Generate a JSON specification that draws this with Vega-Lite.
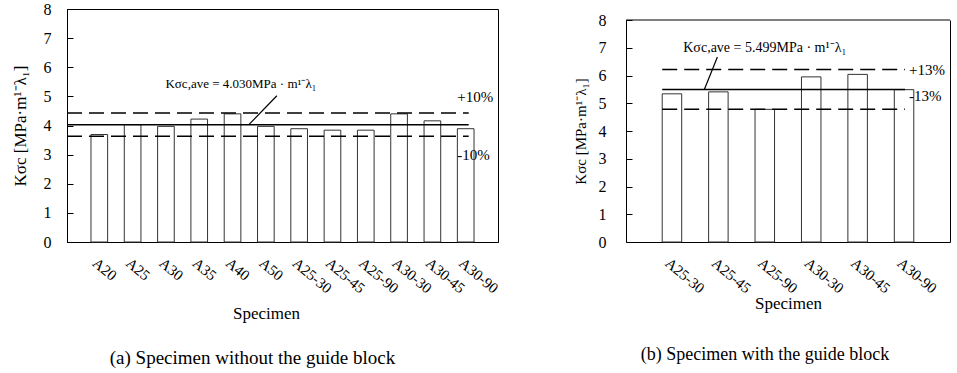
{
  "$schema": "https://vega.github.io/schema/vega-lite/v6.json",
  "padding": {"left": 10, "top": 0, "right": 2, "bottom": 0},
  "background": "white",
  "spacing": 72,
  "config": {
    "font": "Liberation Serif",
    "view": {"stroke": "black", "strokeWidth": 1},
    "axis": {
      "grid": false,
      "domainColor": "black",
      "tickColor": "black",
      "labelColor": "black",
      "titleColor": "black",
      "labelFont": "Liberation Serif",
      "titleFont": "Liberation Serif",
      "titleFontWeight": "normal",
      "labelOverlap": false
    },
    "text": {"font": "Liberation Serif"},
    "title": {"font": "Liberation Serif", "fontWeight": "normal", "color": "black"}
  },
  "datasets": {
    "a": [
      {"specimen": "A20", "K": 3.69},
      {"specimen": "A25", "K": 4.03},
      {"specimen": "A30", "K": 3.97},
      {"specimen": "A35", "K": 4.22},
      {"specimen": "A40", "K": 4.40},
      {"specimen": "A50", "K": 3.97},
      {"specimen": "A25-30", "K": 3.89},
      {"specimen": "A25-45", "K": 3.84},
      {"specimen": "A25-90", "K": 3.84},
      {"specimen": "A30-30", "K": 4.40},
      {"specimen": "A30-45", "K": 4.16},
      {"specimen": "A30-90", "K": 3.89}
    ],
    "b": [
      {"specimen": "A25-30", "K": 5.34},
      {"specimen": "A25-45", "K": 5.41},
      {"specimen": "A25-90", "K": 4.78},
      {"specimen": "A30-30", "K": 5.95},
      {"specimen": "A30-45", "K": 6.04},
      {"specimen": "A30-90", "K": 5.49}
    ],
    "linesA": [
      {"kind": "mean", "value": 4.03, "from": "A20", "to": "A30-90"},
      {"kind": "bound", "value": 4.433, "from": "A20", "to": "A30-90"},
      {"kind": "bound", "value": 3.627, "from": "A20", "to": "A30-90"}
    ],
    "linesB": [
      {"kind": "mean", "value": 5.499, "from": "A25-30", "to": "A30-90"},
      {"kind": "bound", "value": 6.214, "from": "A25-30", "to": "A30-90"},
      {"kind": "bound", "value": 4.784, "from": "A25-30", "to": "A30-90"}
    ],
    "leaderA": [{"x1": "A25-30", "x2": "A50", "y1": 5.02, "y2": 4.03}],
    "leaderB": [{"x1": "A25-45", "x2": "A25-45", "y1": 6.67, "y2": 5.499}],
    "noteA": [{"text": "Kσc,ave = 4.030MPa · m¹⁻λ₁", "at": "A40", "y": 5.43}],
    "noteB": [{"text": "Kσc,ave = 5.499MPa · m¹⁻λ₁", "at": "A25-90", "y": 7.0}],
    "pctA": [
      {"text": "+10%", "at": "A30-90", "y": 4.98},
      {"text": "-10%", "at": "A30-90", "y": 3.0}
    ],
    "pctB": [
      {"text": "+13%", "at": "A30-90", "y": 6.2},
      {"text": "-13%", "at": "A30-90", "y": 5.26}
    ],
    "frameB": [{"top": 8}]
  },
  "hconcat": [
    {
      "width": 431,
      "height": 233,
      "title": {"text": "(a) Specimen without the guide block", "orient": "bottom", "fontSize": 19, "offset": 27, "dx": -30, "anchor": "middle"},
      "resolve": {"axis": {"y": "independent"}},
      "layer": [
        {
          "data": {"name": "a"},
          "mark": {"type": "bar", "fill": "white", "stroke": "#333", "strokeWidth": 1},
          "encoding": {
            "x": {
              "field": "specimen", "type": "nominal", "sort": null,
              "scale": {"domain": ["A20", "A25", "A30", "A35", "A40", "A50", "A25-30", "A25-45", "A25-90", "A30-30", "A30-45", "A30-90"], "paddingInner": 0.5, "paddingOuter": 0.72},
              "axis": {"title": "Specimen", "labelAngle": 40, "labelAlign": "left", "labelBaseline": "top", "labelFontSize": 15, "tickSize": -4, "labelPadding": 17, "titleFontSize": 17, "titlePadding": 10, "titleX": 199}
            },
            "y": {
              "field": "K", "type": "quantitative",
              "scale": {"domain": [0, 8], "nice": false},
              "axis": {"orient": "left", "title": "Kσc  [MPa·m¹⁻λ₁]", "values": [0, 1, 2, 3, 4, 5, 6, 7, 8], "tickSize": -6, "labelPadding": 22, "labelFontSize": 16, "titleFontSize": 17, "titlePadding": 14}
            }
          }
        },
        {
          "data": {"name": "linesA"},
          "mark": {"type": "rule", "color": "black", "strokeWidth": 1.5},
          "encoding": {
            "x": {"field": "from", "type": "nominal", "bandPosition": -1.44},
            "x2": {"field": "to", "bandPosition": 0.68},
            "y": {"field": "value", "type": "quantitative", "axis": null},
            "strokeDash": {"field": "kind", "type": "nominal", "scale": {"domain": ["mean", "bound"], "range": [[1, 0], [15, 7]]}, "legend": null}
          }
        },
        {
          "data": {"name": "leaderA"},
          "mark": {"type": "rule", "color": "black", "strokeWidth": 1.2},
          "encoding": {
            "x": {"field": "x1", "type": "nominal", "bandPosition": -0.84},
            "x2": {"field": "x2", "bandPosition": -0.52},
            "y": {"field": "y1", "type": "quantitative", "axis": null},
            "y2": {"field": "y2"}
          }
        },
        {
          "data": {"name": "noteA"},
          "mark": {"type": "text", "fontSize": 13, "align": "center", "baseline": "middle", "color": "black"},
          "encoding": {
            "x": {"field": "at", "type": "nominal", "bandPosition": 1.0},
            "y": {"field": "y", "type": "quantitative", "axis": null},
            "text": {"field": "text"}
          }
        },
        {
          "data": {"name": "pctA"},
          "mark": {"type": "text", "fontSize": 15, "align": "left", "baseline": "middle", "color": "black"},
          "encoding": {
            "x": {"field": "at", "type": "nominal", "bandPosition": 0},
            "y": {"field": "y", "type": "quantitative", "axis": null},
            "text": {"field": "text"}
          }
        }
      ]
    },
    {
      "width": 324,
      "height": 233,
      "view": {"stroke": null},
      "title": {"text": "(b) Specimen with the guide block", "orient": "bottom", "fontSize": 18, "offset": 34, "dx": -23, "anchor": "middle"},
      "resolve": {"axis": {"y": "independent"}},
      "layer": [
        {
          "data": {"name": "b"},
          "mark": {"type": "bar", "fill": "white", "stroke": "#333", "strokeWidth": 1},
          "encoding": {
            "x": {
              "field": "specimen", "type": "nominal", "sort": null,
              "scale": {"domain": ["A25-30", "A25-45", "A25-90", "A30-30", "A30-45", "A30-90"], "paddingInner": 0.58, "paddingOuter": 0.78},
              "axis": {"title": "Specimen", "labelAngle": 40, "labelAlign": "left", "labelBaseline": "top", "labelFontSize": 15, "tickSize": -4, "labelPadding": 17, "titleFontSize": 17, "titlePadding": 0}
            },
            "y": {
              "field": "K", "type": "quantitative",
              "scale": {"domain": [0, 8], "nice": false, "range": [233, 11]},
              "axis": {"orient": "left", "title": "Kσc  [MPa·m¹⁻λ₁]", "values": [0, 1, 2, 3, 4, 5, 6, 7, 8], "tickSize": -6, "labelPadding": 26, "labelFontSize": 16, "titleFontSize": 15, "titlePadding": 10}
            }
          }
        },
        {
          "data": {"name": "frameB"},
          "mark": {"type": "rule", "color": "black", "strokeWidth": 1},
          "encoding": {
            "y": {"field": "top", "type": "quantitative", "axis": {"orient": "right", "labels": false, "ticks": false, "title": null, "domain": true, "domainColor": "black"}}
          }
        },
        {
          "data": {"name": "linesB"},
          "mark": {"type": "rule", "color": "black", "strokeWidth": 1.5},
          "encoding": {
            "x": {"field": "from", "type": "nominal", "bandPosition": 0},
            "x2": {"field": "to", "bandPosition": 0.55},
            "y": {"field": "value", "type": "quantitative", "axis": null},
            "strokeDash": {"field": "kind", "type": "nominal", "scale": {"domain": ["mean", "bound"], "range": [[1, 0], [15, 7]]}, "legend": null}
          }
        },
        {
          "data": {"name": "leaderB"},
          "mark": {"type": "rule", "color": "black", "strokeWidth": 1.2},
          "encoding": {
            "x": {"field": "x1", "type": "nominal", "bandPosition": 0.45},
            "x2": {"field": "x2", "bandPosition": -0.22},
            "y": {"field": "y1", "type": "quantitative", "axis": null},
            "y2": {"field": "y2"}
          }
        },
        {
          "data": {"name": "noteB"},
          "mark": {"type": "text", "fontSize": 14, "align": "center", "baseline": "middle", "color": "black"},
          "encoding": {
            "x": {"field": "at", "type": "nominal", "bandPosition": 0.5},
            "y": {"field": "y", "type": "quantitative", "axis": null},
            "text": {"field": "text"}
          }
        },
        {
          "data": {"name": "pctB"},
          "mark": {"type": "text", "fontSize": 15, "align": "left", "baseline": "middle", "color": "black"},
          "encoding": {
            "x": {"field": "at", "type": "nominal", "bandPosition": 0.75},
            "y": {"field": "y", "type": "quantitative", "axis": null},
            "text": {"field": "text"}
          }
        }
      ]
    }
  ]
}
